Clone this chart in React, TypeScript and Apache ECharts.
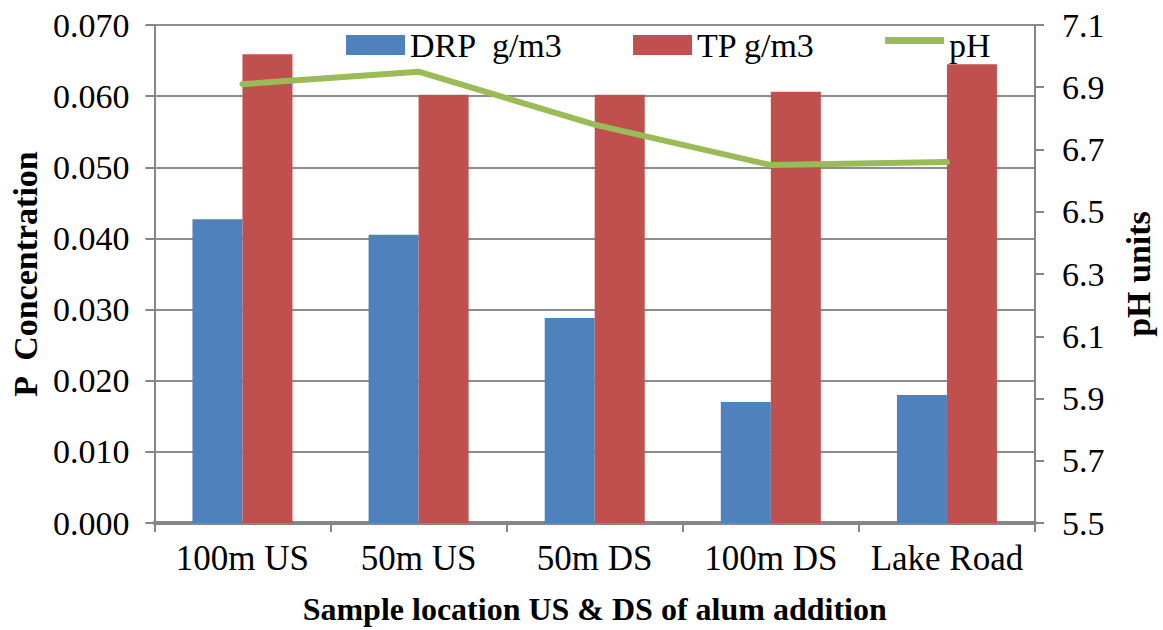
import React, { useEffect, useRef } from "react";
import * as echarts from "echarts";

const categories = ["100m US", "50m US", "50m DS", "100m DS", "Lake Road"];
const drp = [0.0427, 0.0405, 0.0288, 0.0170, 0.0180];
const tp = [0.0659, 0.0602, 0.0602, 0.0606, 0.0645];
const ph = [6.91, 6.95, 6.78, 6.65, 6.66];

const FONT = "Liberation Serif";

export default function App() {
  const ref = useRef<HTMLDivElement>(null);
  useEffect(() => {
    if (!ref.current) return;
    const chart = echarts.init(ref.current, undefined, { renderer: "svg" });
    chart.setOption({
      animation: false,
      backgroundColor: "#ffffff",
      textStyle: { fontFamily: FONT, color: "#000" },
      legend: {
        left: 346,
        top: 28,
        padding: 0,
        itemWidth: 59,
        itemHeight: 20,
        itemGap: 70,
        textStyle: { fontFamily: FONT, fontSize: 34, color: "#000" },
        data: [
          { name: "DRP  g/m3", icon: "rect" },
          { name: "TP g/m3", icon: "rect" },
          {
            name: "pH",
            icon: "path://M0,0 L0,0 M0,2 L59,2 L59,9 L0,9 Z M59,20 L59,20",
            itemStyle: { color: "#9BBB59" },
          },
        ],
      },
      grid: { left: 152, right: 118, top: 25, bottom: 103, containLabel: false },
      xAxis: {
        type: "category",
        data: categories,
        boundaryGap: true,
        name: "Sample location US & DS of alum addition",
        nameLocation: "middle",
        nameGap: 70,
        nameTextStyle: { fontFamily: FONT, fontSize: 32, fontWeight: "bold", color: "#000" },
        axisLine: { lineStyle: { color: "#868686", width: 4 } },
        axisTick: { show: true, interval: 0, length: 9, lineStyle: { color: "#868686", width: 2 } },
        axisLabel: { fontFamily: FONT, fontSize: 35, color: "#000", margin: 18, interval: 0 },
      },
      yAxis: [
        {
          type: "value",
          min: 0,
          max: 0.07,
          interval: 0.01,
          name: "P  Concentration",
          nameLocation: "middle",
          nameRotate: 90,
          nameGap: 110,
          nameTextStyle: { fontFamily: FONT, fontSize: 34, fontWeight: "bold", color: "#000" },
          axisLine: { show: true, lineStyle: { color: "#868686", width: 2 } },
          axisTick: { show: true, length: 9, lineStyle: { color: "#868686", width: 2 } },
          splitLine: { show: true, lineStyle: { color: "#8c8c8c", width: 2 } },
          axisLabel: {
            fontFamily: FONT,
            fontSize: 34,
            color: "#000",
            margin: 25,
            formatter: (v: number) => v.toFixed(3),
          },
        },
        {
          type: "value",
          position: "right",
          min: 5.5,
          max: 7.1,
          interval: 0.2,
          name: "pH units",
          nameLocation: "middle",
          nameRotate: 90,
          nameGap: 86,
          nameTextStyle: { fontFamily: FONT, fontSize: 34, fontWeight: "bold", color: "#000" },
          axisLine: { show: true, lineStyle: { color: "#868686", width: 2 } },
          axisTick: { show: true, length: 9, lineStyle: { color: "#868686", width: 2 } },
          splitLine: { show: false },
          axisLabel: {
            fontFamily: FONT,
            fontSize: 34,
            color: "#000",
            margin: 27,
            formatter: (v: number) => v.toFixed(1),
          },
        },
      ],
      series: [
        {
          name: "DRP  g/m3",
          type: "bar",
          data: drp,
          barWidth: 50,
          barGap: "0%",
          itemStyle: { color: "#4F81BD" },
        },
        {
          name: "TP g/m3",
          type: "bar",
          data: tp,
          barWidth: 50,
          barGap: "0%",
          itemStyle: { color: "#C0504D" },
        },
        {
          name: "pH",
          type: "line",
          yAxisIndex: 1,
          data: ph,
          symbol: "none",
          lineStyle: { color: "#9BBB59", width: 6, cap: "round" },
          itemStyle: { color: "#9BBB59" },
        },
      ],
    });
    return () => chart.dispose();
  }, []);
  return <div ref={ref} style={{ width: 1163, height: 630, position: "absolute", left: 0, top: 0 }} />;
}
